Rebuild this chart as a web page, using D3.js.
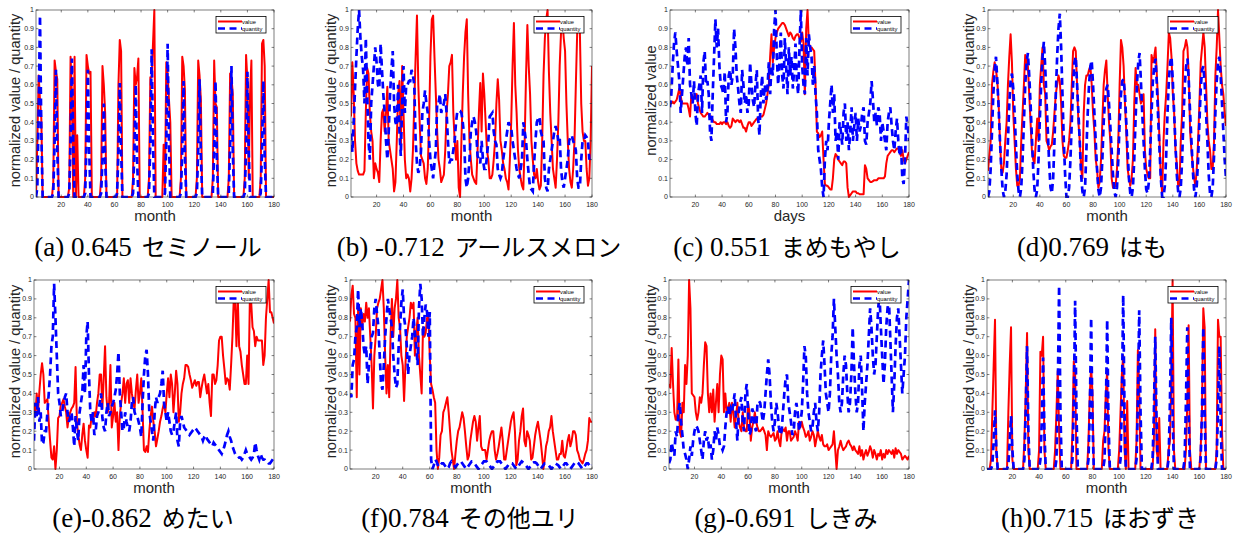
<!DOCTYPE html>
<html>
<head>
  <meta charset="utf-8" />
  <script src="https://d3js.org/d3.v7.min.js"></script>
  <style>
    * { margin: 0; padding: 0; box-sizing: border-box; }
    body { background: #fff; }
    svg { display: block; }
    .tick-label { font-family: "Liberation Sans", Arial, sans-serif; font-size: 7px; fill: #262626; }
    .axis-label { font-family: "Liberation Sans", Arial, sans-serif; font-size: 15px; fill: #262626; }
    .y-label { font-family: "Liberation Sans", Arial, sans-serif; font-size: 14.6px; fill: #262626; }
    .legend-text { font-family: "Liberation Sans", Arial, sans-serif; font-size: 5.8px; fill: #000; }
    .caption { font-family: "Liberation Serif", "Times New Roman", serif; font-size: 27px; fill: #000; }
    .caption .jp { font-family: "Noto Sans CJK JP", sans-serif; font-size: 24px; }
  </style>
</head>
<body>
  <svg width="1233" height="538"></svg>

  <script>
    // month / day index shared by all panels
    const months = d3.range(1, 181);
    const yTicks = [0, 0.1, 0.2, 0.3, 0.4, 0.5, 0.6, 0.7, 0.8, 0.9, 1];
    const xTicks = [20, 40, 60, 80, 100, 120, 140, 160, 180];

    // (a) セミノール
    const aValue = [
      0,.3,.65,.52,.42,0,0,0,0,0,0,0,
      0,.08,.73,.67,.63,0,0,0,0,0,0,0,
      0,.05,.75,.55,0,.75,0,.33,0,0,0,0,
      0,.1,.76,.7,.66,.67,0,0,0,0,0,0,
      0,.1,.7,.6,.45,0,0,0,0,0,0,0,
      0,0,.6,.84,.78,0,0,0,0,0,0,0,
      0,.1,.69,.6,.64,.74,0,0,0,0,0,0,
      0,.1,.64,.64,.82,1,0,0,0,0,0,0,
      .28,.05,.72,.66,.52,.4,0,0,0,0,0,0,
      0,.1,.75,.7,.57,0,0,0,0,0,0,0,
      0,.1,.73,.65,.52,0,0,0,0,0,0,0,
      0,.1,.73,.5,.48,0,0,0,0,0,0,0,
      0,.1,.66,.64,.55,0,0,0,0,0,0,0,
      0,.1,.76,.62,.1,.55,.73,0,0,0,0,0,
      0,.1,.82,.84,.7,0,0,0,0,0,0,0
    ];
    const aQuantity = [
      0,.05,.45,.97,.35,0,0,0,0,0,0,0,
      0,.02,.3,.68,.25,0,0,0,0,0,0,0,
      0,.02,.3,.74,.3,0,0,0,0,0,0,0,
      0,.02,.3,.68,.25,0,0,0,0,0,0,0,
      0,.02,.2,.5,.2,0,0,0,0,0,0,0,
      0,.02,.25,.61,.25,0,0,0,0,0,0,0,
      0,.02,.25,.6,.2,0,0,0,0,0,0,0,
      0,.02,.3,.79,.3,0,0,0,0,0,0,0,
      0,.02,.3,.82,.3,0,0,0,0,0,0,0,
      0,.02,.25,.62,.22,0,0,0,0,0,0,0,
      0,.02,.25,.63,.22,0,0,0,0,0,0,0,
      0,.02,.25,.62,.22,0,0,0,0,0,0,0,
      0,.02,.28,.7,.25,0,0,0,0,0,0,0,
      0,.02,.25,.67,.25,0,0,0,0,0,0,0,
      0,.02,.25,.62,.22,0,0,0,0,0,0,0
    ];

    // (b) アールスメロン
    const bValue = [
      .43,.72,.55,.3,.18,.14,.12,.12,.12,.12,
      .14,.45,.69,.66,.45,.35,.3,.1,.18,.15,
      .13,.08,.3,.45,.47,.35,.45,.59,.3,.25,
      .2,.15,.03,.08,.3,.55,.62,.25,.7,.45,
      .2,.1,.12,.1,.03,.1,.25,.5,.75,.97,
      .6,.4,.22,.2,.18,.1,.07,.15,.4,.75,
      .95,.97,.75,.55,.35,.2,.15,.08,.1,.12,
      .25,.45,.55,.7,.72,.76,.45,.3,.2,.3,
      .05,0,.3,.55,.75,.88,.95,.55,.3,.2,
      .12,.1,.08,.07,.25,.45,.61,.35,.66,.55,
      .4,.25,.2,.1,.1,.12,.2,.3,.5,.63,
      .52,.3,.25,.18,.15,.1,.08,.04,.2,.4,
      .7,.93,.6,.45,.25,.15,.1,.06,.04,.3,
      .65,.92,.7,.55,.3,.2,.12,.1,.15,.08,
      .04,.06,.3,.65,.85,.95,1,.67,.45,.3,
      .15,.1,.05,.2,.4,.7,.88,.95,.85,.78,
      .5,.3,.15,.08,.05,.15,.3,.6,.88,.9,
      .88,.5,.35,.3,.3,.15,.06,.1,.3,.7
    ];
    const bQuantity = [
      .34,.24,.4,.58,.75,.9,1,.85,.75,.68,
      .5,.85,.55,.3,.2,.5,.6,.7,.8,.72,
      .6,.58,.82,.68,.55,.45,.3,.2,.35,.55,
      .68,.78,.5,.4,.38,.6,.35,.22,.5,.7,
      .45,.6,.6,.62,.62,.68,.65,.6,.3,.18,
      .13,.15,.25,.45,.5,.57,.5,.45,.3,.2,
      .15,.1,.18,.25,.5,.5,.55,.45,.48,.5,
      .55,.45,.3,.18,.2,.2,.25,.3,.4,.46,
      .46,.46,.45,.4,.33,.1,.05,.1,.2,.35,
      .4,.43,.4,.35,.22,.2,.18,.3,.2,.15,
      .15,.22,.3,.43,.44,.45,.35,.3,.28,.15,
      .12,.1,.12,.2,.25,.3,.35,.4,.38,.37,
      .3,.25,.2,.15,.12,.1,.15,.2,.4,.35,
      .3,.2,.12,.05,.04,.03,.18,.3,.4,.42,
      .43,.35,.32,.3,.1,.05,.03,.15,.2,.25,
      .3,.35,.38,.35,.3,.32,.15,.08,.05,.1,
      .15,.2,.3,.32,.33,.3,.28,.25,.1,.05,
      .05,.2,.3,.3,.33,.32,.3,.2,.22,.22
    ];

    // (c) まめもやし
    const cValue = [
      .5,.5,.51,.5,.51,.52,.55,.58,.54,.5,
      .5,.5,.5,.5,.47,.43,.55,.54,.53,.53,
      .55,.5,.47,.45,.44,.43,.43,.44,.45,.44,
      .42,.43,.41,.4,.4,.39,.39,.39,.4,.39,
      .4,.4,.39,.4,.38,.37,.38,.42,.41,.4,
      .41,.41,.4,.41,.39,.37,.37,.35,.38,.4,
      .4,.38,.39,.4,.41,.42,.42,.43,.43,.43,
      .44,.47,.5,.55,.6,.75,.87,.72,.8,.85,
      .88,.9,.91,.92,.93,.93,.92,.9,.88,.86,
      .88,.87,.85,.84,.86,.87,.87,.85,.83,.88,
      .82,.55,.9,1,.82,.8,.8,.79,.78,.6,
      .35,.34,.32,.33,.35,.2,.07,.06,.06,.05,
      .04,.04,.1,.2,.23,.22,.2,.19,.18,.17,
      .19,.19,.18,.05,0,.01,.02,.03,.03,.03,
      .02,.02,.015,.015,.015,.015,.17,.15,.1,.09,
      .08,.08,.085,.09,.09,.09,.1,.1,.1,.1,
      .1,.11,.18,.22,.23,.24,.25,.25,.24,.25,
      .26,.26,.24,.22,.25,.2,.18,.2,.22,.24
    ];
    const cQuantity = [
      .48,.55,.7,.82,.88,.78,.7,.62,.45,.55,
      .65,.75,.8,.7,.85,.6,.55,.5,.62,.45,
      .38,.55,.6,.65,.45,.72,.78,.6,.62,.55,
      .35,.3,.55,.75,.95,.8,.9,.7,.6,.58,
      .55,.67,.4,.45,.65,.68,.6,.65,.9,.8,
      .65,.58,.5,.45,.68,.6,.5,.55,.45,.5,
      .72,.6,.52,.48,.6,.68,.42,.33,.55,.65,
      .5,.6,.52,.58,.72,.55,.7,.65,.9,1,
      .75,.6,.72,.88,.65,.58,.85,.7,.55,.8,
      .65,.75,.58,.68,.82,.62,.55,.8,1,.7,
      .6,.55,.85,.65,.87,.8,.75,.6,.7,.55,
      .45,.25,.2,.15,.05,0,.2,.3,.25,.4,
      .5,.6,.45,.55,.3,.35,.2,.4,.35,.28,
      .45,.5,.3,.4,.25,.35,.48,.3,.38,.45,
      .3,.42,.35,.38,.45,.48,.3,.28,.4,.45,
      .5,.62,.52,.4,.45,.38,.48,.45,.3,.4,
      .35,.3,.25,.4,.45,.48,.38,.3,.25,.35,
      .42,.3,.22,.28,.1,.07,.2,.43,.38,.3
    ];

    // (d) はも
    const dValue = [
      .14,.22,.3,.6,.67,.72,.68,.62,.5,.3,.15,.13,
      .18,.3,.4,.6,.75,.87,.72,.45,.3,.15,.06,.06,
      .1,.3,.45,.6,.76,.72,.7,.55,.4,.25,.2,.18,
      .3,.42,.3,.6,.7,.8,.6,.55,.3,.28,.25,.27,
      .28,.35,.45,.55,.6,.65,.62,.5,.3,.22,.21,.21,
      .25,.3,.4,.6,.78,.8,.78,.6,.4,.3,.15,.1,
      .45,.6,.65,.65,.68,.7,.6,.45,.35,.2,.15,.05,
      .08,.2,.4,.6,.68,.73,.55,.4,.3,.1,.05,.05,
      .06,.15,.3,.6,.84,.8,.7,.5,.35,.15,.1,.06,
      .1,.2,.5,.69,.6,.6,.55,.5,.52,.55,.25,.15,
      .12,.1,.1,.76,.72,.75,.8,.65,.5,.3,.1,.02,
      .3,.45,.55,.7,.88,.85,.75,.55,.45,.25,.18,.06,
      .06,.3,.45,.78,.8,.84,.8,.65,.35,.25,.17,.1,
      .06,.15,.3,.5,.72,.8,.88,.8,.6,.4,.3,.25,
      .15,.15,.3,.65,.8,1,.85,.7,.6,.55,.45,.38
    ];
    const dQuantity = [
      0,.03,.15,.35,.55,.68,.75,.62,.48,.3,.15,.04,
      0,.03,.12,.3,.5,.62,.66,.58,.45,.28,.12,.03,
      0,.05,.2,.4,.6,.72,.77,.65,.5,.32,.15,.04,
      0,.04,.2,.42,.6,.75,.83,.7,.52,.35,.18,.05,
      .02,.1,.3,.55,.75,.9,.98,.8,.55,.3,.12,0,
      0,.05,.2,.4,.6,.72,.75,.6,.45,.3,.12,.03,
      0,.05,.25,.45,.6,.7,.73,.6,.45,.3,.15,.04,
      0,.05,.2,.4,.52,.58,.6,.5,.38,.25,.12,.03,
      0,.05,.2,.4,.55,.62,.63,.55,.4,.25,.1,.02,
      0,.05,.2,.42,.6,.72,.77,.62,.45,.3,.15,.04,
      .02,.08,.25,.45,.62,.7,.74,.6,.42,.25,.1,0,
      0,.06,.22,.45,.62,.72,.75,.62,.45,.28,.12,.03,
      0,.05,.2,.42,.6,.7,.74,.62,.45,.3,.15,.04,
      0,.06,.2,.4,.58,.68,.7,.6,.45,.3,.12,.02,
      0,.05,.22,.45,.62,.72,.75,.65,.5,.35,.2,.1
    ];

    // (e) めたい
    const eValue = [
      .35,.28,.4,.3,.41,.5,.56,.5,.35,.36,
      .37,.25,.15,.06,.05,.12,0,.1,.27,.28,
      .34,.35,.37,.33,.3,.22,.28,.3,.32,.33,
      .35,.54,.25,.18,.13,.1,.18,.24,.15,.1,
      .06,.23,.22,.28,.25,.3,.28,.35,.4,.5,
      .5,.32,.48,.65,.38,.3,.35,.55,.22,.28,
      .35,.25,.3,.1,.28,.35,.4,.48,.35,.45,
      .47,.35,.48,.4,.35,.32,.42,.5,.35,.4,
      .48,.3,.1,.09,.12,.09,.2,.28,.33,.25,
      .2,.12,.16,.2,.25,.28,.32,.35,.3,.4,
      .48,.38,.5,.45,.3,.4,.52,.45,.25,.3,
      .4,.45,.48,.55,.55,.54,.5,.47,.43,.45,
      .47,.44,.46,.46,.38,.43,.47,.5,.45,.4,
      .45,.35,.28,.5,.5,.45,.47,.55,.68,.7,
      .7,.6,.53,.45,.48,.47,.42,.55,.7,.9,
      .9,.65,.9,.65,.62,.55,.5,.45,.45,.6,
      .45,.9,.88,.75,.73,.65,.7,.68,.68,.68,
      .68,.55,.6,.8,.9,1,.83,.83,.8,.77
    ];
    const eQuantity = [
      .15,.35,.28,.38,.25,.3,.13,.14,.2,.2,
      .3,.4,.5,.65,.7,.98,.8,.6,.4,.35,
      .28,.3,.35,.38,.4,.3,.25,.27,.3,.22,
      .12,.28,.2,.15,.3,.35,.4,.55,.4,.7,
      .78,.5,.3,.25,.3,.18,.2,.28,.3,.35,
      .4,.27,.22,.2,.3,.35,.28,.3,.33,.35,
      .38,.42,.5,.62,.4,.3,.2,.22,.3,.25,
      .22,.2,.25,.35,.38,.3,.28,.28,.25,.22,
      .17,.35,.5,.6,.63,.5,.3,.25,.2,.15,
      .3,.38,.35,.38,.4,.45,.52,.35,.3,.25,
      .3,.25,.2,.18,.2,.25,.3,.15,.12,.25,
      .28,.25,.22,.21,.2,.19,.18,.19,.2,.21,
      .22,.21,.2,.19,.18,.17,.15,.17,.18,.16,
      .15,.14,.13,.12,.14,.13,.12,.11,.1,.09,
      .08,.1,.12,.15,.18,.2,.17,.15,.12,.1,
      .08,.07,.07,.06,.06,.05,.06,.08,.1,.08,
      .07,.06,.05,.06,.08,.14,.1,.07,.05,.08,
      .06,.05,.05,.04,.04,.03,.03,.04,.05,.06
    ];

    // (f) その他ユリ
    const fValue = [
      .78,.92,.97,.82,.8,.38,.85,.5,.85,.75,
      .82,.78,.88,.8,.85,.7,.55,.32,.6,.7,
      .85,.88,.9,.95,1,.85,.6,.4,.55,.38,
      .7,.9,.7,.85,.9,1,.8,.75,.6,.55,
      .36,.55,.7,.75,.8,.88,.85,.88,.6,.72,
      .8,.6,.5,.4,.75,.7,.72,.8,.8,.6,
      .45,.42,.38,.35,.1,0,.06,.18,.2,.3,
      .32,.35,.38,.3,.2,.1,.05,0,.08,.15,
      .2,.22,.26,.3,.27,.2,.12,.05,.07,.15,
      .2,.25,.28,.25,.15,.22,.28,.12,.1,.1,
      .1,.05,.1,.15,.18,.2,.2,.1,.05,.08,
      .12,.17,.22,.15,.05,.05,.1,.15,.2,.25,
      .28,.3,.2,.02,.05,.15,.2,.28,.32,.15,
      .12,.2,.18,.15,.05,.06,.12,.18,.22,.25,
      .2,.15,.08,0,.05,.12,.15,.2,.22,.28,
      .2,.15,.1,.05,.05,.08,.08,.15,.07,.06,
      .1,.15,.18,.12,.15,.2,.2,.18,.1,.08,
      .05,.04,.03,.05,.08,.1,.15,.27,.25,.25
    ];
    const fQuantity = [
      .4,.38,.55,.58,.7,.75,.95,.75,.85,.78,
      .65,.6,.65,.45,.55,.6,.7,.72,.85,.9,
      .82,.75,.6,.45,.42,.55,.7,.8,.9,.85,
      .8,.75,.6,.5,.43,.45,.65,.75,.88,.95,
      .8,.75,.65,.5,.6,.65,.7,.8,.72,.65,
      .55,.85,.98,.9,.7,.8,.87,.83,.7,.83,
      .05,0,.02,.05,.04,.02,.01,.02,.03,.03,
      .02,.01,0,.01,.03,.04,.03,.02,.01,.02,
      .03,.04,.04,.03,.02,.01,0,.01,.02,.03,
      .04,.04,.03,.02,.01,0,.01,.02,.03,.04,
      .04,.04,.03,.02,.01,0,.01,.02,.03,.04,
      .04,.04,.03,.02,.01,0,.01,.02,.03,.03,
      .03,.02,.01,0,.01,.02,.03,.04,.035,.03,
      .02,.01,0,.01,.02,.03,.035,.035,.03,.02,
      .01,0,.01,.02,.03,.03,.025,.02,.01,0,
      .01,.02,.03,.025,.02,.01,0,.01,.02,.03,
      .03,.02,.01,0,.01,.02,.03,.04,.035,.03,
      .02,.01,0,.01,.02,.03,.03,.02,.01,.02
    ];

    // (g) しきみ
    const gValue = [
      .45,.43,.64,.45,.3,.26,.26,.58,.2,.17,
      .35,.3,.55,.45,.6,1,.85,.4,.39,.38,
      .3,.26,.3,.38,.35,.4,.55,.67,.65,.4,
      .3,.4,.3,.42,.25,.35,.45,.3,.5,.6,
      .58,.3,.4,.3,.32,.35,.25,.35,.3,.22,
      .28,.35,.25,.22,.2,.3,.22,.2,.2,.35,
      .3,.15,.22,.25,.3,.25,.22,.2,.2,.21,
      .22,.2,.18,.1,.2,.18,.17,.18,.19,.15,
      .16,.2,.15,.12,.2,.21,.2,.22,.15,.2,
      .2,.15,.16,.17,.2,.18,.15,.25,.22,.25,
      .22,.2,.17,.18,.2,.15,.17,.2,.18,.12,
      .16,.2,.17,.15,.18,.13,.12,.12,.13,.1,
      .11,.12,.13,.2,.1,0,.1,.12,.15,.12,
      .1,.11,.12,.14,.15,.13,.12,.1,.12,.1,
      .09,.08,.12,.07,.1,.05,.08,.1,.07,.09,
      .12,.1,.06,.1,.08,.05,.08,.07,.1,.05,
      .08,.06,.1,.08,.1,.09,.08,.1,.06,.11,
      .08,.1,.09,.08,.05,.06,.07,.06,.05,.07
    ];
    const gQuantity = [
      .03,.05,.14,.1,.07,.2,.17,.3,.35,.25,
      .18,.1,.08,.05,0,.05,.12,.07,.15,.2,
      .23,.22,.2,.15,.1,.05,.15,.2,.15,.17,
      .1,.13,.05,.1,.2,.15,.22,.18,.12,.12,
      .1,.12,.22,.3,.33,.28,.32,.3,.35,.4,
      .25,.15,.3,.35,.38,.25,.2,.4,.45,.3,
      .18,.2,.32,.3,.22,.2,.35,.36,.35,.3,
      .25,.3,.4,.5,.58,.5,.35,.25,.2,.25,
      .35,.3,.22,.18,.2,.3,.4,.48,.5,.35,
      .3,.25,.18,.2,.3,.35,.3,.2,.25,.3,
      .45,.65,.6,.4,.3,.25,.2,.22,.3,.35,
      .25,.2,.3,.5,.6,.68,.55,.4,.35,.3,
      .4,.6,.7,.9,.75,.6,.5,.35,.3,.35,
      .5,.6,.55,.4,.3,.35,.5,.75,.55,.4,
      .3,.35,.55,.6,.42,.2,.35,.45,.55,.7,
      .85,.75,.6,.5,.55,.7,.85,.92,.75,.6,
      .45,.55,.75,.85,.9,.7,.5,.3,.45,.65,
      .8,.85,.7,.55,.4,.5,.6,.8,.9,1
    ];

    // (h) ほおずき
    const hValue = [
      0,0,0,.05,.3,.55,.79,.1,0,0,0,0,
      0,0,0,0,.3,.55,.75,.05,0,0,0,0,
      0,0,0,0,.15,.4,.72,.1,0,0,0,0,
      0,0,0,.1,.62,.6,.7,.1,0,0,0,0,
      0,0,0,.1,.3,.52,.2,0,0,0,0,0,
      0,0,0,0,.2,.57,.5,0,0,0,0,0,
      0,0,0,0,.15,.4,.54,.4,0,0,0,0,
      0,0,0,.15,.2,.4,.52,.1,0,0,0,0,
      0,0,0,.1,.3,.5,.6,.1,0,.36,0,0,
      0,0,0,0,.15,.63,.4,0,0,0,0,0,
      0,0,0,0,0,.15,.74,.1,.05,.27,0,0,
      0,0,0,0,.1,.15,.45,1,.1,0,0,0,
      0,0,0,0,0,.1,.35,.76,.1,0,0,0,
      0,0,0,0,.1,.3,.85,.75,0,0,0,0,
      0,0,0,0,.1,.79,.7,.7,.2,0,0,0
    ];
    const hQuantity = [
      0,0,0,0,.02,.15,.31,.1,0,0,0,0,
      0,0,0,0,.02,.15,.28,.1,0,0,0,0,
      0,0,0,0,.05,.3,.65,.2,0,0,0,0,
      0,0,0,0,.05,.25,.59,.2,0,0,0,0,
      0,0,0,0,.05,.4,.97,.3,0,0,0,0,
      0,0,0,0,.05,.35,.89,.3,0,0,0,0,
      0,0,0,0,.05,.3,.8,.25,0,0,0,0,
      0,0,0,0,.05,.3,.79,.25,0,0,0,0,
      0,0,0,0,.05,.35,.92,.3,0,0,0,0,
      0,0,0,0,.05,.35,.84,.3,0,0,0,0,
      0,0,0,0,.05,.3,.7,.25,0,0,0,0,
      0,0,0,0,.05,.35,.8,.3,0,0,0,0,
      0,0,0,0,.05,.35,.75,.3,0,0,0,0,
      0,0,0,0,.05,.3,.75,.3,0,0,0,0,
      0,0,0,0,.05,.3,.65,.25,0,0,0,0
    ];

    const captionHeads = ["(a) 0.645", "(b) -0.712", "(c) 0.551", "(d)0.769", "(e)-0.862", "(f)0.784", "(g)-0.691", "(h)0.715"];
    const captionNames = ["セミノール", "アールスメロン", "まめもやし", "はも", "めたい", "その他ユリ", "しきみ", "ほおずき"];
    const xLabels = ["month", "month", "days", "month", "month", "month", "month", "month"];
    const yLabels = ["normalized value / quantity", "normalized value / quantity", "normalized value", "normalized value / quantity",
                     "normalized value / quantity", "normalized value / quantity", "normalized value / quantity", "normalized value / quantity"];
    const valueSeries = [aValue, bValue, cValue, dValue, eValue, fValue, gValue, hValue];
    const quantitySeries = [aQuantity, bQuantity, cQuantity, dQuantity, eQuantity, fQuantity, gQuantity, hQuantity];

    // placement of each small plot on the page (plot box, y label x, caption centre)
    const layout = [
      { left: 36,  right: 274,  top: 10,  bottom: 197, yLabelX: 15,  capX: 148,  capY: 256 },
      { left: 351, right: 592,  top: 10,  bottom: 197, yLabelX: 331, capX: 479,  capY: 256 },
      { left: 670, right: 909,  top: 10,  bottom: 197, yLabelX: 651, capX: 787,  capY: 256 },
      { left: 988, right: 1226, top: 10,  bottom: 197, yLabelX: 969, capX: 1092, capY: 256 },
      { left: 34,  right: 274,  top: 280, bottom: 469, yLabelX: 15,  capX: 143,  capY: 526.5 },
      { left: 350, right: 592,  top: 280, bottom: 469, yLabelX: 331, capX: 470,  capY: 526.5 },
      { left: 669, right: 909,  top: 280, bottom: 469, yLabelX: 651, capX: 786,  capY: 526.5 },
      { left: 987, right: 1226, top: 280, bottom: 469, yLabelX: 969, capX: 1100, capY: 526.5 }
    ];

    const svg = d3.select("svg");
    const problems = [];

    layout.forEach((box, i) => {
      const values = valueSeries[i];
      const quantities = quantitySeries[i];
      if (values.length !== 180 || quantities.length !== 180) {
        problems.push(`panel ${i}: ${values.length} / ${quantities.length}`);
      }

      const x = d3.scaleLinear().domain([1, 180]).range([box.left, box.right]);
      const y = d3.scaleLinear().domain([0, 1]).range([box.bottom, box.top]);
      const g = svg.append("g");

      const clipId = "clip" + i;
      g.append("clipPath").attr("id", clipId)
        .append("rect")
        .attr("x", box.left).attr("y", box.top - 1)
        .attr("width", box.right - box.left).attr("height", box.bottom - box.top + 2);

      const line = d3.line().x((d, k) => x(months[k])).y(d => y(d));

      const plot = g.append("g").attr("clip-path", `url(#${clipId})`);
      plot.append("path")
        .datum(values)
        .attr("d", line)
        .attr("fill", "none")
        .attr("stroke", "#ff0000")
        .attr("stroke-width", 2)
        .attr("stroke-linejoin", "round");
      plot.append("path")
        .datum(quantities)
        .attr("d", line)
        .attr("fill", "none")
        .attr("stroke", "#0000ff")
        .attr("stroke-width", 2.7)
        .attr("stroke-dasharray", "7,4.5");

      // frame + inward ticks (MATLAB box on)
      g.append("rect")
        .attr("x", box.left).attr("y", box.top)
        .attr("width", box.right - box.left).attr("height", box.bottom - box.top)
        .attr("fill", "none").attr("stroke", "#262626").attr("stroke-width", 0.6);

      const tl = 2.4;
      g.selectAll(null).data(yTicks).join("path")
        .attr("d", d => `M${box.left},${y(d)}h${tl}M${box.right},${y(d)}h${-tl}`)
        .attr("stroke", "#262626").attr("stroke-width", 0.6);
      g.selectAll(null).data(xTicks).join("path")
        .attr("d", d => `M${x(d)},${box.bottom}v${-tl}M${x(d)},${box.top}v${tl}`)
        .attr("stroke", "#262626").attr("stroke-width", 0.6);

      g.selectAll(null).data(yTicks).join("text")
        .attr("class", "tick-label")
        .attr("x", box.left - 2)
        .attr("y", d => y(d))
        .attr("dy", "0.35em")
        .attr("text-anchor", "end")
        .text(d => d3.format("")(d));
      g.selectAll(null).data(xTicks).join("text")
        .attr("class", "tick-label")
        .attr("x", d => x(d))
        .attr("y", box.bottom + 9.5)
        .attr("text-anchor", "middle")
        .text(d => d);

      g.append("text")
        .attr("class", "axis-label")
        .attr("x", (box.left + box.right) / 2)
        .attr("y", box.bottom + 23.5)
        .attr("text-anchor", "middle")
        .text(xLabels[i]);

      g.append("text")
        .attr("class", "y-label")
        .attr("transform", `translate(${box.yLabelX},${(box.top + box.bottom) / 2 - 3}) rotate(-90)`)
        .attr("dy", "0.35em")
        .attr("text-anchor", "middle")
        .text(yLabels[i]);

      // legend
      const lx = box.right - 58, ly = box.top + 6.5;
      const legend = g.append("g");
      legend.append("rect")
        .attr("x", lx).attr("y", ly).attr("width", 50).attr("height", 16.5)
        .attr("fill", "#fff").attr("stroke", "#000").attr("stroke-width", 0.8);
      legend.append("path")
        .attr("d", `M${lx + 2},${ly + 5}H${lx + 26}`)
        .attr("stroke", "#ff0000").attr("stroke-width", 2);
      legend.append("path")
        .attr("d", `M${lx + 2},${ly + 12}H${lx + 26}`)
        .attr("stroke", "#0000ff").attr("stroke-width", 2.7).attr("stroke-dasharray", "7,4.5");
      legend.append("text").attr("class", "legend-text")
        .attr("x", lx + 26).attr("y", ly + 5).attr("dy", "0.35em").text("value");
      legend.append("text").attr("class", "legend-text")
        .attr("x", lx + 26).attr("y", ly + 12).attr("dy", "0.35em").text("quantity");

      // caption under the plot
      const cap = g.append("text")
        .attr("class", "caption")
        .attr("x", box.capX)
        .attr("y", box.capY)
        .attr("text-anchor", "middle");
      cap.append("tspan").text(captionHeads[i]);
      cap.append("tspan").attr("class", "jp").attr("dx", 10).text(captionNames[i]);
    });

    if (problems.length) throw new Error("bad series length: " + problems.join("; "));
  </script>
</body>
</html>
